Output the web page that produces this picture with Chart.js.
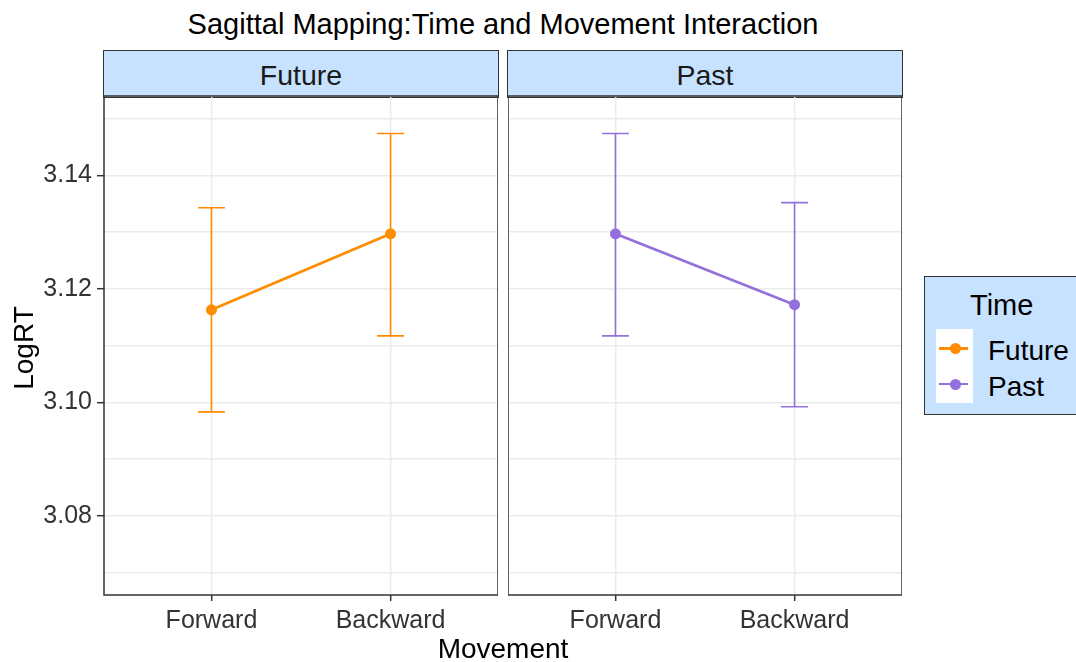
<!DOCTYPE html>
<html>
<head>
<meta charset="utf-8">
<script src="https://cdn.jsdelivr.net/npm/chart.js@4.4.1/dist/chart.umd.min.js"></script>
<style>
  html, body { margin: 0; padding: 0; background: #fff; }
  #wrap { position: relative; width: 1076px; height: 662px; overflow: hidden;
          font-family: "Liberation Sans", Arial, sans-serif; color: #000; }
  .txt { position: absolute; white-space: nowrap; }
  canvas { position: absolute; }
  .strip { position: absolute; top: 49.5px; height: 48px; box-sizing: border-box;
           background: #C6E2FF; border: 1.5px solid #333; }
  .strip span { position: absolute; left: 0; right: 0; text-align: center;
                font-size: 28.5px; line-height: 28.5px; color: #1a1a1a; top: 10px; }
  #legend { position: absolute; left: 924px; top: 276px; width: 170px; height: 139px;
            box-sizing: border-box; background: #C6E2FF; border: 1.5px solid #333; }
  .keybg { position: absolute; left: 936px; top: 329px; width: 37px; height: 74px; background: #fff; }
  .keyline { position: absolute; left: 939px; width: 29px; height: 2.6px; }
  .keydot { position: absolute; left: 949.5px; width: 11px; height: 11px; border-radius: 50%; }
</style>
</head>
<body>
<div id="wrap">
  <div class="txt" id="title" style="left:103px;width:800px;text-align:center;top:10px;font-size:29px;line-height:29px;">Sagittal Mapping:Time and Movement Interaction</div>

  <div class="strip" style="left:103px;width:396px;"><span id="stripA"></span></div>
  <div class="strip" style="left:507px;width:396px;"><span id="stripB"></span></div>

  <canvas id="panelFuture" width="498" height="596" style="left:0px;top:66px;"></canvas>
  <canvas id="panelPast" width="394" height="596" style="left:508px;top:66px;"></canvas>

  <div class="txt" style="left:-76.5px;top:334px;width:200px;text-align:center;font-size:28px;line-height:28px;transform:rotate(-90deg);">LogRT</div>
  <div class="txt" style="left:303px;width:400px;text-align:center;top:634.5px;font-size:28px;line-height:28px;">Movement</div>

  <div id="legend"></div>
  <div class="txt" style="left:970px;top:290.5px;font-size:29px;line-height:29px;">Time</div>
  <div class="keybg"></div>
  <div class="keyline" id="keyLineA" style="top:347px;"></div>
  <div class="keydot" id="keyDotA" style="top:342.8px;"></div>
  <div class="keyline" id="keyLineB" style="top:382.7px;"></div>
  <div class="keydot" id="keyDotB" style="top:378.5px;"></div>
  <div class="txt" id="keyTextA" style="left:988px;top:337.3px;font-size:28px;line-height:28px;"></div>
  <div class="txt" id="keyTextB" style="left:988px;top:372.8px;font-size:28px;line-height:28px;"></div>
</div>

<script>
// Facets / legend entries and x categories
const times = ['Future', 'Past'];
const movements = ['Forward', 'Backward'];

// Mean LogRT with lower / upper error-bar limits, per movement
const futureMean  = [3.1163, 3.1297];
const futureLower = [3.0983, 3.1117];
const futureUpper = [3.1343, 3.1474];

const pastMean  = [3.1297, 3.1172];
const pastLower = [3.1117, 3.0992];
const pastUpper = [3.1474, 3.1352];

// y axis: limits, labelled (major) ticks and minor grid lines
const yLimits = [3.07, 3.15];
const yMajorTicks = [3.08, 3.10, 3.12, 3.14];
const yTickLabels = ['3.08', '3.10', '3.12', '3.14'];
const yMinorTicks = [3.07, 3.09, 3.11, 3.13, 3.15];

const COLORS = { Future: '#FF8C00', Past: '#9370DB' };
const FONT = '"Liberation Sans", Arial, sans-serif';
const CAP_HALF = 0.075;          // half width of the error-bar caps, in category units
const EXPAND_Y = 0.05 * (yLimits[1] - yLimits[0]);

function majorIndex(v) {
  return yMajorTicks.findIndex(t => Math.abs(t - v) < 1e-9);
}

// Vertical error bars with caps, positioned through the chart scales
const errorBars = {
  id: 'errorBars',
  beforeDatasetsDraw(chart, args, opts) {
    const { ctx, scales: { x, y } } = chart;
    ctx.save();
    ctx.strokeStyle = opts.color;
    ctx.lineWidth = 1.6;
    opts.lower.forEach((lo, i) => {
      const cx = x.getPixelForValue(i + 1);
      const xl = x.getPixelForValue(i + 1 - CAP_HALF);
      const xr = x.getPixelForValue(i + 1 + CAP_HALF);
      const yl = y.getPixelForValue(lo);
      const yu = y.getPixelForValue(opts.upper[i]);
      ctx.beginPath();
      ctx.moveTo(cx, yl); ctx.lineTo(cx, yu);
      ctx.moveTo(xl, yl); ctx.lineTo(xr, yl);
      ctx.moveTo(xl, yu); ctx.lineTo(xr, yu);
      ctx.stroke();
    });
    ctx.restore();
  }
};

// Dark frame around each facet panel
const panelBorder = {
  id: 'panelBorder',
  afterDraw(chart) {
    const { ctx, chartArea: a } = chart;
    ctx.save();
    ctx.strokeStyle = '#333';
    ctx.lineWidth = 1.5;
    ctx.strokeRect(a.left, a.top, a.right - a.left, a.bottom - a.top);
    ctx.restore();
  }
};

function makePanel(canvasId, time, mean, lower, upper, showY) {
  const color = COLORS[time];
  return new Chart(document.getElementById(canvasId), {
    type: 'line',
    data: {
      datasets: [{
        label: time,
        data: mean.map((v, i) => ({ x: i + 1, y: v })),
        borderColor: color,
        backgroundColor: color,
        borderWidth: 2.6,
        pointRadius: 5.5,
        pointHoverRadius: 5.5,
        pointBorderWidth: 0,
        tension: 0
      }]
    },
    options: {
      responsive: false,
      animation: false,
      devicePixelRatio: 1,
      events: [],
      layout: { autoPadding: false, padding: { top: 30, left: 0, right: 0, bottom: 0 } },
      plugins: {
        legend: { display: false },
        tooltip: { enabled: false },
        errorBars: { color, lower, upper }
      },
      scales: {
        x: {
          type: 'linear',
          min: 0.4,
          max: movements.length + 0.6,
          afterBuildTicks: s => { s.ticks = movements.map((m, i) => ({ value: i + 1 })); },
          afterFit: s => { s.height = 67; s.paddingLeft = 0; s.paddingRight = 0; },
          border: { display: false },
          grid: { color: '#EBEBEB', lineWidth: 1.4, tickColor: '#333', tickLength: 6, tickWidth: 1.5 },
          ticks: {
            callback: v => movements[v - 1],
            font: { family: FONT, size: 25 },
            color: '#333',
            padding: 5,
            maxRotation: 0,
            autoSkip: false
          }
        },
        y: {
          min: yLimits[0] - EXPAND_Y,
          max: yLimits[1] + EXPAND_Y,
          afterBuildTicks: s => {
            s.ticks = [...yMinorTicks, ...yMajorTicks].sort((a, b) => a - b).map(v => ({ value: v }));
          },
          afterFit: s => { s.width = showY ? 104 : 0; s.paddingTop = 0; s.paddingBottom = 0; },
          border: { display: false },
          grid: {
            color: '#EBEBEB',
            lineWidth: 1.4,
            drawTicks: showY,
            tickLength: 7,
            tickWidth: 1.5,
            tickColor: c => (majorIndex(c.tick.value) >= 0 ? '#333' : 'rgba(0,0,0,0)')
          },
          ticks: {
            display: showY,
            callback: v => { const k = majorIndex(v); return k >= 0 ? yTickLabels[k] : ''; },
            font: { family: FONT, size: 25 },
            color: '#333',
            padding: 5,
            autoSkip: false
          }
        }
      }
    },
    plugins: [errorBars, panelBorder]
  });
}

makePanel('panelFuture', times[0], futureMean, futureLower, futureUpper, true);
makePanel('panelPast', times[1], pastMean, pastLower, pastUpper, false);

// Facet strips and legend entries
document.getElementById('stripA').textContent = times[0];
document.getElementById('stripB').textContent = times[1];
['A', 'B'].forEach((k, i) => {
  const c = COLORS[times[i]];
  document.getElementById('keyLine' + k).style.background = c;
  document.getElementById('keyDot' + k).style.background = c;
  document.getElementById('keyText' + k).textContent = times[i];
});
</script>
</body>
</html>
